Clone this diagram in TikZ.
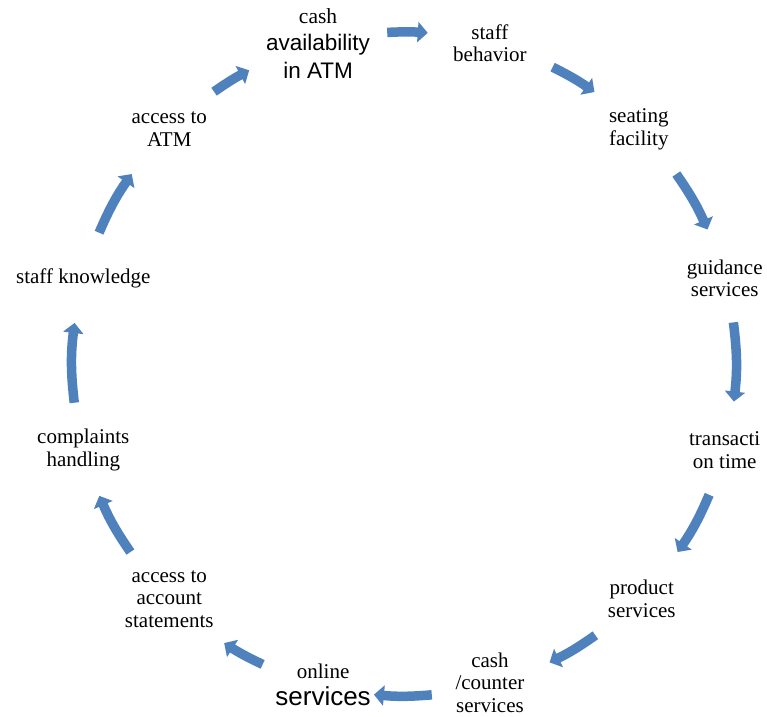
\documentclass[tikz,border=0pt]{standalone}
\usepackage{fontspec}
\setmainfont{Liberation Serif}
\setsansfont{Liberation Sans}
\usepackage{xcolor}
\usetikzlibrary{arrows.meta,calc}
\definecolor{cycleblue}{RGB}{79,129,189}

\begin{document}
\begin{tikzpicture}[x=1pt, y=1pt,
	lbl/.style={align=center, inner sep=0pt, font=\fontsize{21}{22.5}\selectfont},
	flow/.style={draw=cycleblue, line width=9.5pt, -{Triangle[width=20pt,length=10pt]}}]
	\useasboundingbox (0,0) rectangle (767,716);
	\coordinate (c) at (404,352);
	
	\node[lbl, font=\fontsize{21.5}{27.5}\selectfont] (cash) at ($(c)+(105:332)$) {cash\\\textsf{\fontsize{22.5}{27.5}\selectfont availability}\\\textsf{\fontsize{22.5}{27.5}\selectfont in ATM}};
	\node[lbl] (behavior) at ($(c)+(75:332)$) {staff\\behavior};
	\node[lbl] (seating) at ($(c)+(45:332)$) {seating\\facility};
	\node[lbl] (guidance) at ($(c)+(15:332)$) {guidance\\services};
	\node[lbl] (transaction) at ($(c)+(-15:332)$) {transacti\\on time};
	\node[lbl, xshift=3] (product) at ($(c)+(-45:332)$) {product\\services};
	\node[lbl, yshift=2] (counter) at ($(c)+(-75:332)$) {cash\\/counter\\services};
	\node[lbl, xshift=5, font=\fontsize{21}{27}\selectfont] (online) at ($(c)+(-105:332)$) {online\\\textsf{\fontsize{26}{27}\selectfont services}};
	\node[lbl] (statements) at ($(c)+(-135:332)$) {access to\\account\\statements};
	\node[lbl] (complaints) at ($(c)+(-165:332)$) {complaints\\handling};
	\node[lbl] (knowledge) at ($(c)+(165:332)$) {staff knowledge};
	\node[lbl] (atm) at ($(c)+(135:332)$) {access to\\ATM};
	
	\coordinate (t1) at ($(c)+(92.9:332)$);
	\coordinate (h1) at ($(c)+(85.9:332)$);
	\coordinate (t2) at ($(c)+(63.4:332)$);
	\coordinate (h2) at ($(c)+(55.0:332)$);
	\coordinate (t3) at ($(c)+(34.9:332)$);
	\coordinate (h3) at ($(c)+(23.9:332)$);
	\coordinate (t4) at ($(c)+(7.2:332)$);
	\coordinate (h4) at ($(c)+(-6.5:332)$);
	\coordinate (t5) at ($(c)+(-23.2:332)$);
	\coordinate (h5) at ($(c)+(-34.5:332)$);
	\coordinate (t6) at ($(c)+(-54.8:332)$);
	\coordinate (h6) at ($(c)+(-64.0:332)$);
	\coordinate (t7) at ($(c)+(-85.2:332)$);
	\coordinate (h7) at ($(c)+(-95.2:332)$);
	\coordinate (t8) at ($(c)+(-115.2:332)$);
	\coordinate (h8) at ($(c)+(-122.8:332)$);
	\coordinate (t9) at ($(c)+(-145.5:332)$);
	\coordinate (h9) at ($(c)+(-156.6:332)$);
	\coordinate (t10) at ($(c)+(186.7:332)$);
	\coordinate (h10) at ($(c)+(172.9:332)$);
	\coordinate (t11) at ($(c)+(156.7:332)$);
	\coordinate (h11) at ($(c)+(145.1:332)$);
	\coordinate (t12) at ($(c)+(124.9:332)$);
	\coordinate (h12) at ($(c)+(117.8:332)$);
	
	\draw[flow] (t1) to[bend left=3.5] (h1);
	\draw[flow] (t2) to[bend left=4.2] (h2);
	\draw[flow] (t3) to[bend left=5.5] (h3);
	\draw[flow] (t4) to[bend left=6.85] (h4);
	\draw[flow] (t5) to[bend left=5.65] (h5);
	\draw[flow] (t6) to[bend left=4.6] (h6);
	\draw[flow] (t7) to[bend left=5] (h7);
	\draw[flow] (t8) to[bend left=3.8] (h8);
	\draw[flow] (t9) to[bend left=5.55] (h9);
	\draw[flow] (t10) to[bend left=6.9] (h10);
	\draw[flow] (t11) to[bend left=5.8] (h11);
	\draw[flow] (t12) to[bend left=3.55] (h12);
\end{tikzpicture}
\end{document}
